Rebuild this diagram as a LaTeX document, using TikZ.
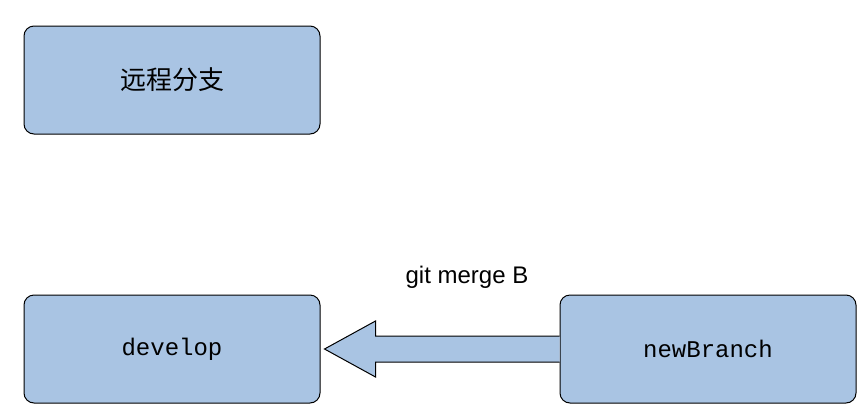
\documentclass[tikz,border=0pt]{standalone}
\usepackage{fontspec}
\setmainfont{Liberation Sans}
\newfontfamily\cjk{Noto Sans CJK SC}
\newfontfamily\monof{Liberation Mono}
\usetikzlibrary{calc}
\definecolor{boxblue}{HTML}{A9C4E3}
\begin{document}
\begin{tikzpicture}[x=1pt,y=-1pt,
  box/.style={draw=black,line width=1pt,fill=boxblue,rounded corners=10pt,minimum width=296pt,minimum height=108pt,inner sep=0pt}]
\useasboundingbox (0,0) rectangle (868,416);
\node[box,font=\fontsize{26}{30}\selectfont\cjk] (remote) at (172,80) {远程分支};
\node[box,font=\fontsize{24}{28}\selectfont\monof] (develop) at (172,349) {develop};
\node[box,font=\fontsize{24}{28}\selectfont\monof] (newb) at (708,349) {newBranch};
\coordinate (tip) at ($(develop.east)+(4,0)$);
\draw[line width=1pt,fill=boxblue]
  ($(newb.west)+(0,-13)$) -- ($(tip)+(51,-13)$) -- ($(tip)+(51,-28)$) -- (tip)
  -- ($(tip)+(51,28)$) -- ($(tip)+(51,13)$) -- ($(newb.west)+(0,13)$);
\node[font=\fontsize{24}{28}\selectfont] (lbl) at (467,277) {git merge B};
\end{tikzpicture}
\end{document}
